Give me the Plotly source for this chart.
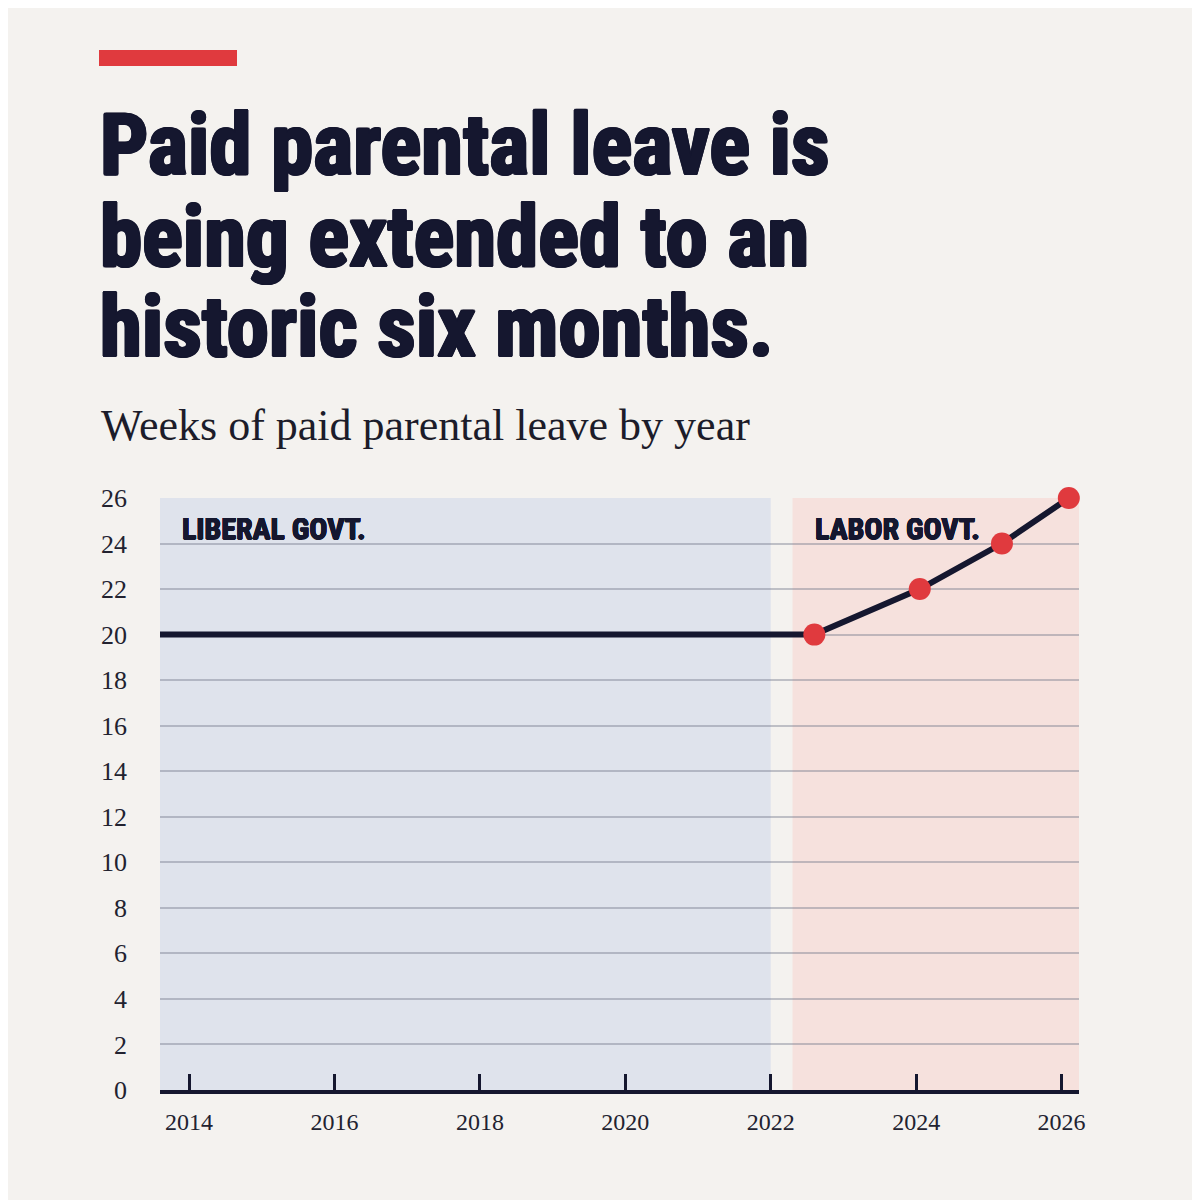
import plotly.graph_objects as go

# ---- data ----
line_years = [2013.6, 2022.6]          # flat segment (Liberal era) to first point
line_weeks = [20, 20]
point_years = [2022.6, 2024.05, 2025.18, 2026.1]
point_weeks = [20, 22, 24, 26]
x_ticks = [2014, 2016, 2018, 2020, 2022, 2024, 2026]
y_ticks = [0, 2, 4, 6, 8, 10, 12, 14, 16, 18, 20, 22, 24, 26]
period_names = ["LIBERAL GOVT.", "LABOR GOVT."]
period_start = [2013.6, 2022.3]
period_end = [2022.0, 2026.24]

# ---- style ----
BG = "#f4f2ef"
NAVY = "#15172f"
RED = "#e03a3e"
BLUE_FILL = "#dfe3ec"
PINK_FILL = "#f6e1dd"
SERIF = "Liberation Serif, DejaVu Serif, serif"
NARROW = "Roboto Condensed, Noto Sans Condensed, DejaVu Sans Condensed, sans-serif"


def heavy(px, color):
    d = round(px * 0.707, 2)
    offs = [(px, 0), (-px, 0), (0, px), (0, -px), (d, d), (-d, d), (d, -d), (-d, -d)]
    return ", ".join(f"{dx}px {dy}px 0 {color}" for dx, dy in offs)


OFF = 8  # page body margin offset
W, H = 1200 - OFF, 1200 - OFF
# plot area in reference-picture pixels
L, R, T, B = 160, 1079, 498, 1090


def px_x(x):
    return (x - L) / (R - L)


def px_y(y):
    return (B - y) / (B - T)


fig = go.Figure()

fig.add_trace(go.Scatter(
    x=line_years + point_years[1:], y=line_weeks + point_weeks[1:],
    mode="lines", line=dict(color=NAVY, width=6),
    hoverinfo="skip", showlegend=False, cliponaxis=False))

fig.add_trace(go.Scatter(
    x=point_years, y=point_weeks, mode="markers",
    marker=dict(color=RED, size=22, line=dict(width=0)),
    showlegend=False, cliponaxis=False))

fills = [BLUE_FILL, PINK_FILL]
for i, name in enumerate(period_names):
    fig.add_shape(type="rect", xref="x", yref="y",
                  x0=period_start[i], x1=period_end[i], y0=0, y1=max(y_ticks),
                  fillcolor=fills[i], line=dict(width=0), layer="below")

fig.add_shape(type="rect", xref="paper", yref="paper",
              x0=px_x(99), x1=px_x(237), y0=px_y(66), y1=px_y(50),
              fillcolor=RED, line=dict(width=0))

annotations = []
title_lines = ["Paid parental leave is", "being extended to an", "historic six months."]
title_mid = [145, 237, 327]
for txt, ym in zip(title_lines, title_mid):
    annotations.append(dict(
        text=txt, xref="paper", yref="paper", x=px_x(98), y=px_y(ym),
        xanchor="left", yanchor="middle", showarrow=False,
        font=dict(family=NARROW, size=85, color=NAVY, weight="bold",
                  shadow=heavy(1.4, NAVY))))

annotations.append(dict(
    text="Weeks of paid parental leave by year", xref="paper", yref="paper",
    x=px_x(99), y=px_y(426), xanchor="left", yanchor="middle", showarrow=False,
    font=dict(family=SERIF, size=44, color="#1c1c2a")))

label_x = [180, 813]
for name, lx in zip(period_names, label_x):
    annotations.append(dict(
        text=name, xref="paper", yref="paper", x=px_x(lx), y=px_y(528),
        xanchor="left", yanchor="middle", showarrow=False,
        font=dict(family=NARROW, size=30, color=NAVY, weight="bold",
                  shadow=heavy(0.5, NAVY))))

fig.update_layout(
    width=W, height=H,
    margin=dict(l=L - OFF, r=W - (R - OFF), t=T - OFF, b=H - (B - OFF), pad=0),
    paper_bgcolor=BG, plot_bgcolor=BG,
    annotations=annotations,
    showlegend=False,
)

fig.update_xaxes(
    range=[period_start[0], period_end[1]],
    tickvals=x_ticks, ticktext=[str(v) for v in x_ticks],
    ticks="inside", ticklen=16, tickwidth=3, tickcolor=NAVY,
    showline=True, linecolor=NAVY, linewidth=4,
    showgrid=False, zeroline=False,
    tickfont=dict(family=SERIF, size=24, color="#222230"),
    ticklabelstandoff=7,
)
fig.update_yaxes(
    range=[0, max(y_ticks)],
    tickvals=y_ticks, ticktext=[str(v) for v in y_ticks],
    showgrid=True, gridcolor="rgba(110,115,135,0.4)", gridwidth=1.5,
    zeroline=False, showline=False, ticks="",
    tickfont=dict(family=SERIF, size=26, color="#222230"),
    ticklabelstandoff=32,
)

fig.write_html("out.html")
